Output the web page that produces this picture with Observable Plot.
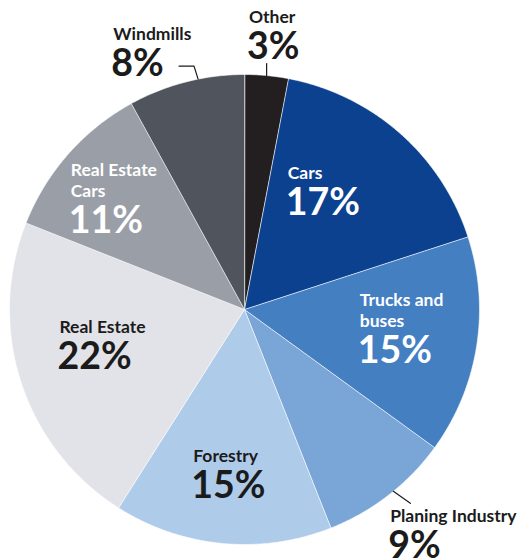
<!DOCTYPE html>
<html>
<head>
<meta charset="utf-8">
<script src="https://cdn.jsdelivr.net/npm/d3@7"></script>
<script src="https://cdn.jsdelivr.net/npm/@observablehq/plot@0.6"></script>
<style>
  html, body { margin: 0; padding: 0; background: #fff; }
  #chart { width: 522px; height: 560px; overflow: hidden; }
  svg { font-family: Lato, "Open Sans", sans-serif; }
</style>
</head>
<body>
<div id="chart"></div>
<script>
// ---- data ----
const categories = ["Other", "Cars", "Trucks and buses", "Planing Industry", "Forestry", "Real Estate", "Real Estate Cars", "Windmills"];
const shares = [3, 17, 15, 9, 15, 22, 11, 8];
const labels = ["Other", "Cars", "Trucks and\nbuses", "Planing Industry", "Forestry", "Real Estate", "Real Estate\nCars", "Windmills"];
const colors = ["#231f20", "#0c4190", "#447fc2", "#7aa6d7", "#afcbea", "#e2e3e8", "#9a9ea6", "#50545c"];
const textColors = ["#1b1b1b", "#ffffff", "#ffffff", "#1b1b1b", "#1b1b1b", "#1b1b1b", "#ffffff", "#1b1b1b"];

// ---- layout (pixels) ----
const W = 522, H = 560, CX = 244, CY = 309, R = 235;
// label placement: radius factor along mid-angle, then pixel shift [sx, sy]
const labelPlace = [
  {k: 1.15, s: [-21, -17]},
  {k: 0.6, s: [-50, -25]},
  {k: 0.6, s: [-24, -5]},
  {k: 1.15, s: [-20, -1]},
  {k: 0.6, s: [-38, 12]},
  {k: 0.6, s: [-51, -20]},
  {k: 0.6, s: [-68, -19]},
  {k: 1.15, s: [-64, -8]}
];

const total = d3.sum(shares);
const rad = Math.PI / 180;
const polar = (a, k) => [k * Math.sin(a), k * Math.cos(a)];
const px = ([x, y], [sx, sy]) => [x + sx / R, y - sy / R];

// slices
let acc = 0;
const slices = categories.map((c, i) => {
  const a0 = acc / total * 2 * Math.PI;
  acc += shares[i];
  const a1 = acc / total * 2 * Math.PI;
  return {c, i, a0, a1, mid: (a0 + a1) / 2};
});
const slicePts = [];
for (const s of slices) {
  slicePts.push({c: s.c, x: 0, y: 0});
  const n = Math.max(2, Math.ceil((s.a1 - s.a0) / (0.5 * rad)));
  for (let j = 0; j <= n; j++) {
    const a = s.a0 + (s.a1 - s.a0) * j / n;
    const [x, y] = polar(a, 1);
    slicePts.push({c: s.c, x, y});
  }
}

// labels
const labelData = slices.map(s => {
  const p = px(polar(s.mid, labelPlace[s.i].k), labelPlace[s.i].s);
  return {name: labels[s.i], pct: shares[s.i] + "%", x: p[0], y: p[1], tc: textColors[s.i]};
});

// leader lines for outside labels
const leaders = [];
function leader(idx, angleNudge, segs) {
  const s = slices[idx];
  let p = polar(s.mid + angleNudge * rad, 1);
  leaders.push({g: idx, x: p[0], y: p[1]});
  for (const seg of segs) {
    p = px(p, seg);
    leaders.push({g: idx, x: p[0], y: p[1]});
  }
}
leader(0, 0, [[0, -12]]);
leader(7, 3, [[-4, -13], [-15, 0]]);
leader(3, -1.5, [[17, 12]]);

const white = labelData.filter(d => d.tc === "#ffffff");
const dark = labelData.filter(d => d.tc !== "#ffffff");

const textOpts = (fill) => ({
  x: "x", y: "y", textAnchor: "start", lineAnchor: "bottom", fill,
  fontFamily: "Lato, 'Open Sans', sans-serif"
});

const chart = Plot.plot({
  width: W, height: H,
  margin: 0,
  x: {domain: [-CX / R, (W - CX) / R], range: [0, W], axis: null},
  y: {domain: [-(H - CY) / R, CY / R], range: [H, 0], axis: null},
  color: {type: "ordinal", domain: categories, range: colors},
  style: {background: "#fff", overflow: "visible"},
  marks: [
    Plot.line(slicePts, {x: "x", y: "y", z: "c", fill: "c", stroke: "#ffffff", strokeWidth: 0.6, curve: "linear-closed"}),
    Plot.line(leaders, {x: "x", y: "y", z: "g", stroke: "#1b1b1b", strokeWidth: 1.2}),
    Plot.text(white, {...textOpts("#ffffff"), text: "name", fontSize: 17.5, fontWeight: 700, lineHeight: 1.2}),
    Plot.text(white, {...textOpts("#ffffff"), text: "pct", fontSize: 37.5, fontWeight: 700, dy: 36, dx: -2}),
    Plot.text(dark, {...textOpts("#1b1b1b"), text: "name", fontSize: 17.5, fontWeight: 700, lineHeight: 1.2}),
    Plot.text(dark, {...textOpts("#1b1b1b"), text: "pct", fontSize: 37.5, fontWeight: 700, dy: 36, dx: -2})
  ]
});
document.getElementById("chart").appendChild(chart);
</script>
</body>
</html>
